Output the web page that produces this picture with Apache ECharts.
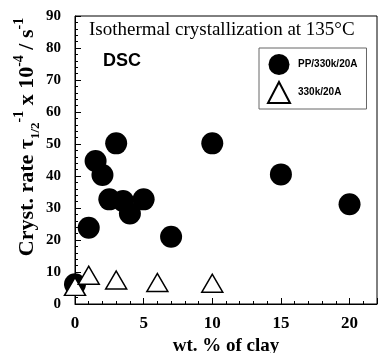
<!DOCTYPE html>
<html><head><meta charset="utf-8">
<script src="https://cdn.jsdelivr.net/npm/echarts@6/dist/echarts.min.js"></script>
<style>html,body{margin:0;padding:0;background:#fff}#c{width:378px;height:353px}</style>
</head><body><div id="c"></div>
<script>
const xTicks = [0, 5, 10, 15, 20];
const yTicks = [0, 10, 20, 30, 40, 50, 60, 70, 80, 90];
const ppNames = 'PP/330k/20A';
const ppX = [0, 1, 1.5, 2, 3, 2.5, 3.5, 4, 5, 7, 10, 15, 20];
const ppY = [6.2, 23.8, 44.7, 40.3, 50.2, 32.7, 32.2, 28.3, 32.7, 21, 50.2, 40.5, 31.2];
const clayName = '330k/20A';
const clayX = [0, 1, 3, 6, 10];
const clayY = [5.5, 9, 7.5, 6.7, 6.5];

const serif = 'Liberation Serif';
const chart = echarts.init(document.getElementById('c'));
chart.setOption({
  animation: false,
  backgroundColor: '#fff',
  grid: { left: 75, right: 1, top: 16, bottom: 49, show: true, borderColor: '#000', borderWidth: 1, outerBoundsMode: 'none', containLabel: false },
  xAxis: {
    type: 'value', min: 0, max: 22, interval: 5,
    name: 'wt. % of clay', nameLocation: 'middle', nameGap: 30,
    nameTextStyle: { fontFamily: serif, fontWeight: 'bold', fontSize: 19, color: '#000' },
    axisLine: { lineStyle: { color: '#000', width: 1 } },
    axisTick: { inside: true, length: 6, lineStyle: { color: '#000' } },
    minorTick: { show: true, splitNumber: 5, length: 3, lineStyle: { color: '#000' } },
    splitLine: { show: false },
    axisLabel: { showMaxLabel: false, margin: 11, fontFamily: serif, fontWeight: 'bold', fontSize: 17, color: '#000' }
  },
  yAxis: {
    type: 'value', min: 0, max: 90, interval: 10,
    axisLine: { show: true, lineStyle: { color: '#000', width: 1 } },
    axisTick: { show: true, inside: true, length: 6, lineStyle: { color: '#000' } },
    minorTick: { show: true, splitNumber: 5, length: 3, lineStyle: { color: '#000' } },
    splitLine: { show: false },
    axisLabel: { margin: 14, fontFamily: serif, fontWeight: 'bold', fontSize: 15, color: '#000' }
  },
  legend: {
    orient: 'vertical', left: 259, top: 48,
    padding: [6, 9, 5, 8], itemGap: 6, itemWidth: 22, itemHeight: 21,
    borderColor: '#666', borderWidth: 1,
    textStyle: { fontFamily: 'Liberation Sans', fontWeight: 'bold', fontSize: 10, color: '#000', padding: [0, 0, 0, 3] },
    data: [{ name: ppNames, icon: 'circle' }, { name: clayName, icon: 'triangle' }]
  },
  graphic: [
    { type: 'text', left: 89, top: 21, style: { text: 'Isothermal crystallization at 135°C', fontFamily: serif, fontSize: 19, fill: '#000' } },
    { type: 'text', left: 103, top: 52, style: { text: 'DSC', fontFamily: 'Liberation Sans', fontWeight: 'bold', fontSize: 18, fill: '#000' } },
    { type: 'text', x: 27, y: 137, rotation: Math.PI / 2,
      style: {
        text: '{m|Cryst. rate τ}{sub|1/2}{sup|-1}{m| x 10}{sup|-4}{m| / s}{sup|-1}',
        align: 'center', verticalAlign: 'middle',
        rich: {
          m: { fontFamily: serif, fontWeight: 'bold', fontSize: 22, fill: '#000', lineHeight: 30, verticalAlign: 'middle' },
          sup: { fontFamily: serif, fontWeight: 'bold', fontSize: 14, fill: '#000', lineHeight: 14, verticalAlign: 'top' },
          sub: { fontFamily: serif, fontWeight: 'bold', fontSize: 13, fill: '#000', lineHeight: 13, verticalAlign: 'bottom' }
        }
      } }
  ],
  series: [
    { name: ppNames, type: 'scatter', symbol: 'circle', symbolSize: 22,
      itemStyle: { color: '#000', opacity: 1 },
      data: ppX.map((x, i) => [x, ppY[i]]) },
    { name: clayName, type: 'scatter', symbol: 'triangle', symbolSize: [21, 18],
      itemStyle: { color: '#fff', borderColor: '#000', borderWidth: 1.5, opacity: 1 },
      data: clayX.map((x, i) => [x, clayY[i]]) }
  ]
});
</script></body></html>
